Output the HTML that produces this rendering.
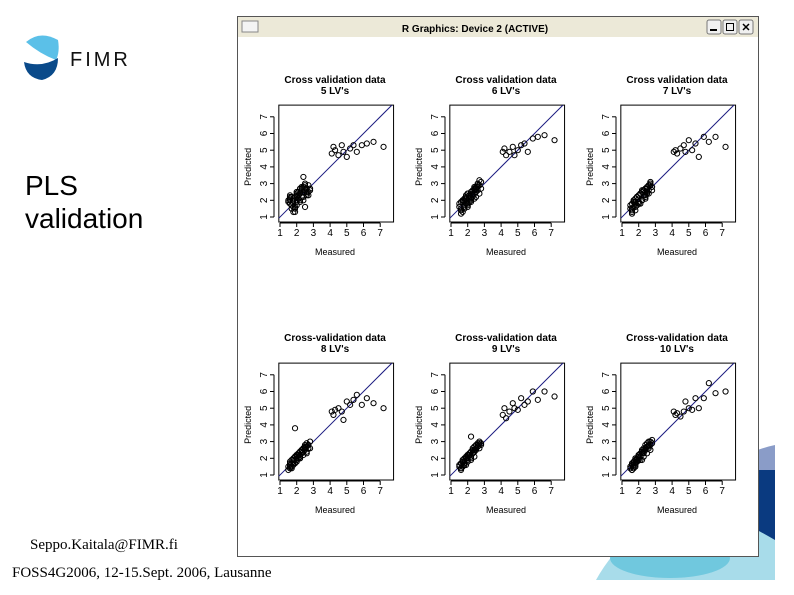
<!DOCTYPE html>
<html><head><meta charset="utf-8"><style>
body{margin:0;width:794px;height:595px;overflow:hidden;background:#fff;position:relative;font-family:"Liberation Sans",sans-serif}
.abs{position:absolute}
</style></head><body>
<svg class="abs" style="left:0;top:0" width="794" height="595">
 <g>
  <path d="M26,42 Q40,30 58,40 Q60,52 56,60 Q40,54 26,42Z" fill="#5bc0e8"/>
  <path d="M24,62 Q42,68 58,58 Q58,76 42,80 Q26,78 24,62Z" fill="#0a4a8a"/>
  <text x="70" y="66" font-size="20" fill="#111" letter-spacing="3" font-family="Liberation Sans">FIMR</text>
 </g>
 <g>
  <path d="M596,580 Q640,500 775,470 L775,580Z" fill="#a8dcea"/>
  <path d="M700,500 Q740,470 775,465 L775,540 Q740,520 700,500Z" fill="#0a3a80"/>
  <path d="M720,470 Q750,450 775,445 L775,470 Q750,470 720,470Z" fill="#8a9cc8"/>
  <ellipse cx="670" cy="558" rx="60" ry="20" fill="#70c8de"/>
 </g>
 <text x="25" y="195" font-size="28" fill="#000">PLS</text>
 <text x="25" y="228" font-size="28" fill="#000">validation</text>
 <text x="30" y="549" font-size="15" font-family="Liberation Serif">Seppo.Kaitala@FIMR.fi</text>
 <text x="12" y="577" font-size="15" font-family="Liberation Serif">FOSS4G2006, 12-15.Sept. 2006, Lausanne</text>
 <g>
  <rect x="237.5" y="16.5" width="521" height="540" fill="#fff" stroke="#555"/>
  <rect x="238" y="17" width="520" height="20" fill="#ece9d8"/>
  <rect x="242" y="21" width="16" height="11" fill="#f4f4f4" stroke="#888"/>
  <text x="475" y="32" font-size="10" font-weight="bold" text-anchor="middle">R Graphics: Device 2 (ACTIVE)</text>
  <g><rect x="707" y="20" width="14" height="14" rx="2" fill="#f0f0f0" stroke="#777"/><rect x="710" y="29" width="7" height="2" fill="#000"/></g>
  <g><rect x="723" y="20" width="14" height="14" rx="2" fill="#f0f0f0" stroke="#777"/><rect x="726.5" y="23.5" width="7" height="7" fill="none" stroke="#000"/></g>
  <g><rect x="739" y="20" width="14" height="14" rx="2" fill="#f0f0f0" stroke="#777"/><text x="746" y="31" font-size="11" font-weight="bold" text-anchor="middle">✕</text></g>
 </g>
 <g id="plots"></g>
</svg>
<script>
const titles=["Cross validation data","Cross validation data","Cross validation data","Cross-validation data","Cross-validation data","Cross-validation data"];
const subtitles=["5 LV's","6 LV's","7 LV's","8 LV's","9 LV's","10 LV's"];
const ticks=[1,2,3,4,5,6,7];
const measured=[1.5,1.6,1.6,1.7,1.7,1.8,1.8,1.8,1.9,1.9,2.0,2.0,2.0,2.1,2.1,2.2,2.2,2.3,2.3,2.4,2.4,2.5,2.5,2.6,2.6,2.7,2.8,1.6,1.9,2.2,2.4,2.7,1.7,2.0,2.3,2.5,4.1,4.2,4.3,4.5,4.7,4.8,5.0,5.2,5.4,5.6,5.9,6.2,6.6,7.2,
 1.5,1.6,1.7,1.8,1.9,2.0,2.1,2.2,2.3,2.4,2.5,2.6,2.7,2.8,1.6,1.8,2.0,2.2,2.4,2.6];
const pred5=[2.0,1.8,2.1,1.5,2.2,1.3,2.0,1.8,2.2,1.6,2.0,1.7,2.3,2.1,2.5,2.4,1.9,2.6,2.2,2.8,2.5,2.6,3.0,2.7,2.3,2.9,2.6,2.0,1.3,2.4,3.4,2.3,2.2,2.5,2.8,1.6,4.8,5.2,5.0,4.7,5.3,4.9,4.6,5.1,5.3,4.9,5.3,5.4,5.5,5.2,
 1.9,2.2,1.7,2.1,1.5,1.9,2.3,2.0,2.7,2.2,2.9,2.4,2.5,2.7,2.3,1.6,2.4,2.7,2.0,2.5];
const pred6=[1.6,1.4,1.9,1.3,2.0,1.7,1.5,2.1,1.8,2.2,2.0,1.6,2.4,2.2,1.9,2.5,2.1,2.6,2.3,2.8,2.4,2.7,2.5,3.0,2.6,2.9,3.1,1.2,2.3,2.0,2.7,3.2,1.9,2.4,2.2,2.8,4.9,5.1,4.7,4.9,5.2,4.7,5.0,5.3,5.4,4.9,5.7,5.8,5.9,5.6,
 1.8,1.5,2.0,1.6,2.1,1.8,2.3,1.9,2.4,2.6,2.2,2.8,2.4,2.7,1.4,2.0,1.7,2.5,2.1,2.9];
const pred7=[1.5,1.3,1.8,1.6,2.0,1.4,1.8,2.1,1.7,2.2,1.9,2.3,2.1,2.4,1.8,2.5,2.0,2.6,2.3,2.7,2.2,2.8,2.5,2.9,2.6,3.0,2.8,1.2,2.2,2.0,2.5,3.1,1.9,2.3,2.6,2.4,4.9,5.0,4.8,5.1,5.3,4.9,5.6,5.0,5.4,4.6,5.8,5.5,5.8,5.2,
 1.7,1.4,2.0,1.6,2.2,1.8,2.4,2.0,2.6,2.3,2.7,2.4,2.9,2.6,1.5,1.9,1.8,2.6,2.1,2.9];
const pred8=[1.5,1.6,1.7,1.4,1.9,1.6,2.0,1.8,1.7,2.1,2.0,1.9,2.2,2.3,2.0,2.4,2.1,2.5,2.3,2.6,2.4,2.8,2.5,2.7,2.9,2.6,3.0,1.4,3.8,2.2,2.6,2.8,1.7,2.1,2.4,2.6,4.8,4.6,4.9,5.0,4.8,4.3,5.4,5.2,5.5,5.8,5.2,5.6,5.3,5.0,
 1.3,1.8,1.5,1.9,2.1,1.8,2.2,2.0,2.5,2.2,2.7,2.4,2.8,2.6,1.5,1.7,2.2,2.0,2.6,2.3];
const pred9=[1.5,1.3,1.7,1.5,1.9,1.7,2.0,1.8,2.1,1.6,2.2,1.9,2.0,2.3,2.2,2.4,2.1,2.6,2.3,2.7,2.5,2.8,2.6,2.9,2.7,3.0,2.8,1.4,2.0,3.3,2.4,2.9,1.8,2.2,2.5,2.6,4.6,5.0,4.4,4.8,5.3,5.0,4.9,5.6,5.2,5.4,6.0,5.5,6.0,5.7,
 1.6,1.4,1.8,1.6,2.0,1.8,2.2,2.0,2.3,2.1,2.5,2.7,2.6,2.9,1.7,1.6,2.1,1.9,2.4,2.8];
const pred10=[1.4,1.3,1.6,1.5,1.8,1.7,1.9,1.6,2.0,1.8,2.1,2.2,1.9,2.3,2.1,2.5,2.4,2.6,2.3,2.8,2.5,2.7,2.9,2.6,3.0,2.8,3.1,1.3,1.9,2.3,2.5,3.0,1.7,2.0,2.4,2.7,4.8,4.6,4.7,4.5,4.8,5.4,5.0,4.9,5.6,5.0,5.6,6.5,5.9,6.0,
 1.5,1.7,1.4,2.0,1.8,2.2,1.9,2.4,2.1,2.6,2.3,2.8,2.5,2.9,1.6,1.5,2.1,1.9,2.5,2.7];
const preds=[pred5,pred6,pred7,pred8,pred9,pred10];
const origins=[[280,217],[451,217],[622,217],[280,475],[451,475],[622,475]];
const S=16.7;
const NS="http://www.w3.org/2000/svg";
const root=document.getElementById('plots');
function mk(tag,attrs,parent){const e=document.createElementNS(NS,tag);for(const k in attrs)e.setAttribute(k,attrs[k]);parent.appendChild(e);return e;}
origins.forEach((o,i)=>{
 const ox=o[0],oy=o[1];
 const sx=v=>ox+(v-1)*S, sy=v=>oy-(v-1)*S;
 const g=mk('g',{},root);
 
 
 const t=mk('text',{x:ox+55,y:oy-134,'font-size':10,'font-weight':'bold','text-anchor':'middle'},g);t.textContent=titles[i];
 
 
 const t2=mk('text',{x:ox+55,y:oy-123,'font-size':10,'font-weight':'bold','text-anchor':'middle'},g);t2.textContent=subtitles[i];
 
 
 const bx=sx(0.93),by=sy(7.7),bw=sx(7.8)-bx,bh=sy(0.7)-by;
 const box=mk('rect',{x:bx,y:by,width:bw,height:bh,fill:'none',stroke:'#000','stroke-width':1},g);
 
 
 mk('line',{x1:sx(1),y1:oy+6,x2:sx(7),y2:oy+6,stroke:'#000'},g);
 mk('line',{x1:ox-6,y1:sy(1),x2:ox-6,y2:sy(7),stroke:'#000'},g);
 ticks.forEach(v=>{
  mk('line',{x1:sx(v),y1:oy+6,x2:sx(v),y2:oy+10,stroke:'#000'},g);
  const xl=mk('text',{x:sx(v),y:oy+19,'font-size':10,'text-anchor':'middle'},g);xl.textContent=v;
  
  
  mk('line',{x1:ox-6,y1:sy(v),x2:ox-10,y2:sy(v),stroke:'#000'},g);
  const yl=mk('text',{x:ox-13,y:sy(v),'font-size':10,'text-anchor':'middle',transform:`rotate(-90 ${ox-13} ${sy(v)})`},g);yl.textContent=v;
  
  
 });
 const xt=mk('text',{x:ox+55,y:oy+38,'font-size':9,'text-anchor':'middle'},g);xt.textContent='Measured';
 
 
 const yt=mk('text',{x:ox-29,y:sy(4),'font-size':9,'text-anchor':'middle',transform:`rotate(-90 ${ox-29} ${sy(4)})`},g);yt.textContent='Predicted';
 
 
 const ln=mk('line',{x1:sx(0.93),y1:sy(0.93),x2:sx(7.7),y2:sy(7.7),stroke:'#1a1a80','stroke-width':1},g);
 
 
 measured.forEach((m,j)=>{
  const c=mk('circle',{cx:sx(m),cy:sy(preds[i][j]),r:2.6,fill:'none',stroke:'#000','stroke-width':1},g);
  
  
 });
});
</script>
</body></html>
